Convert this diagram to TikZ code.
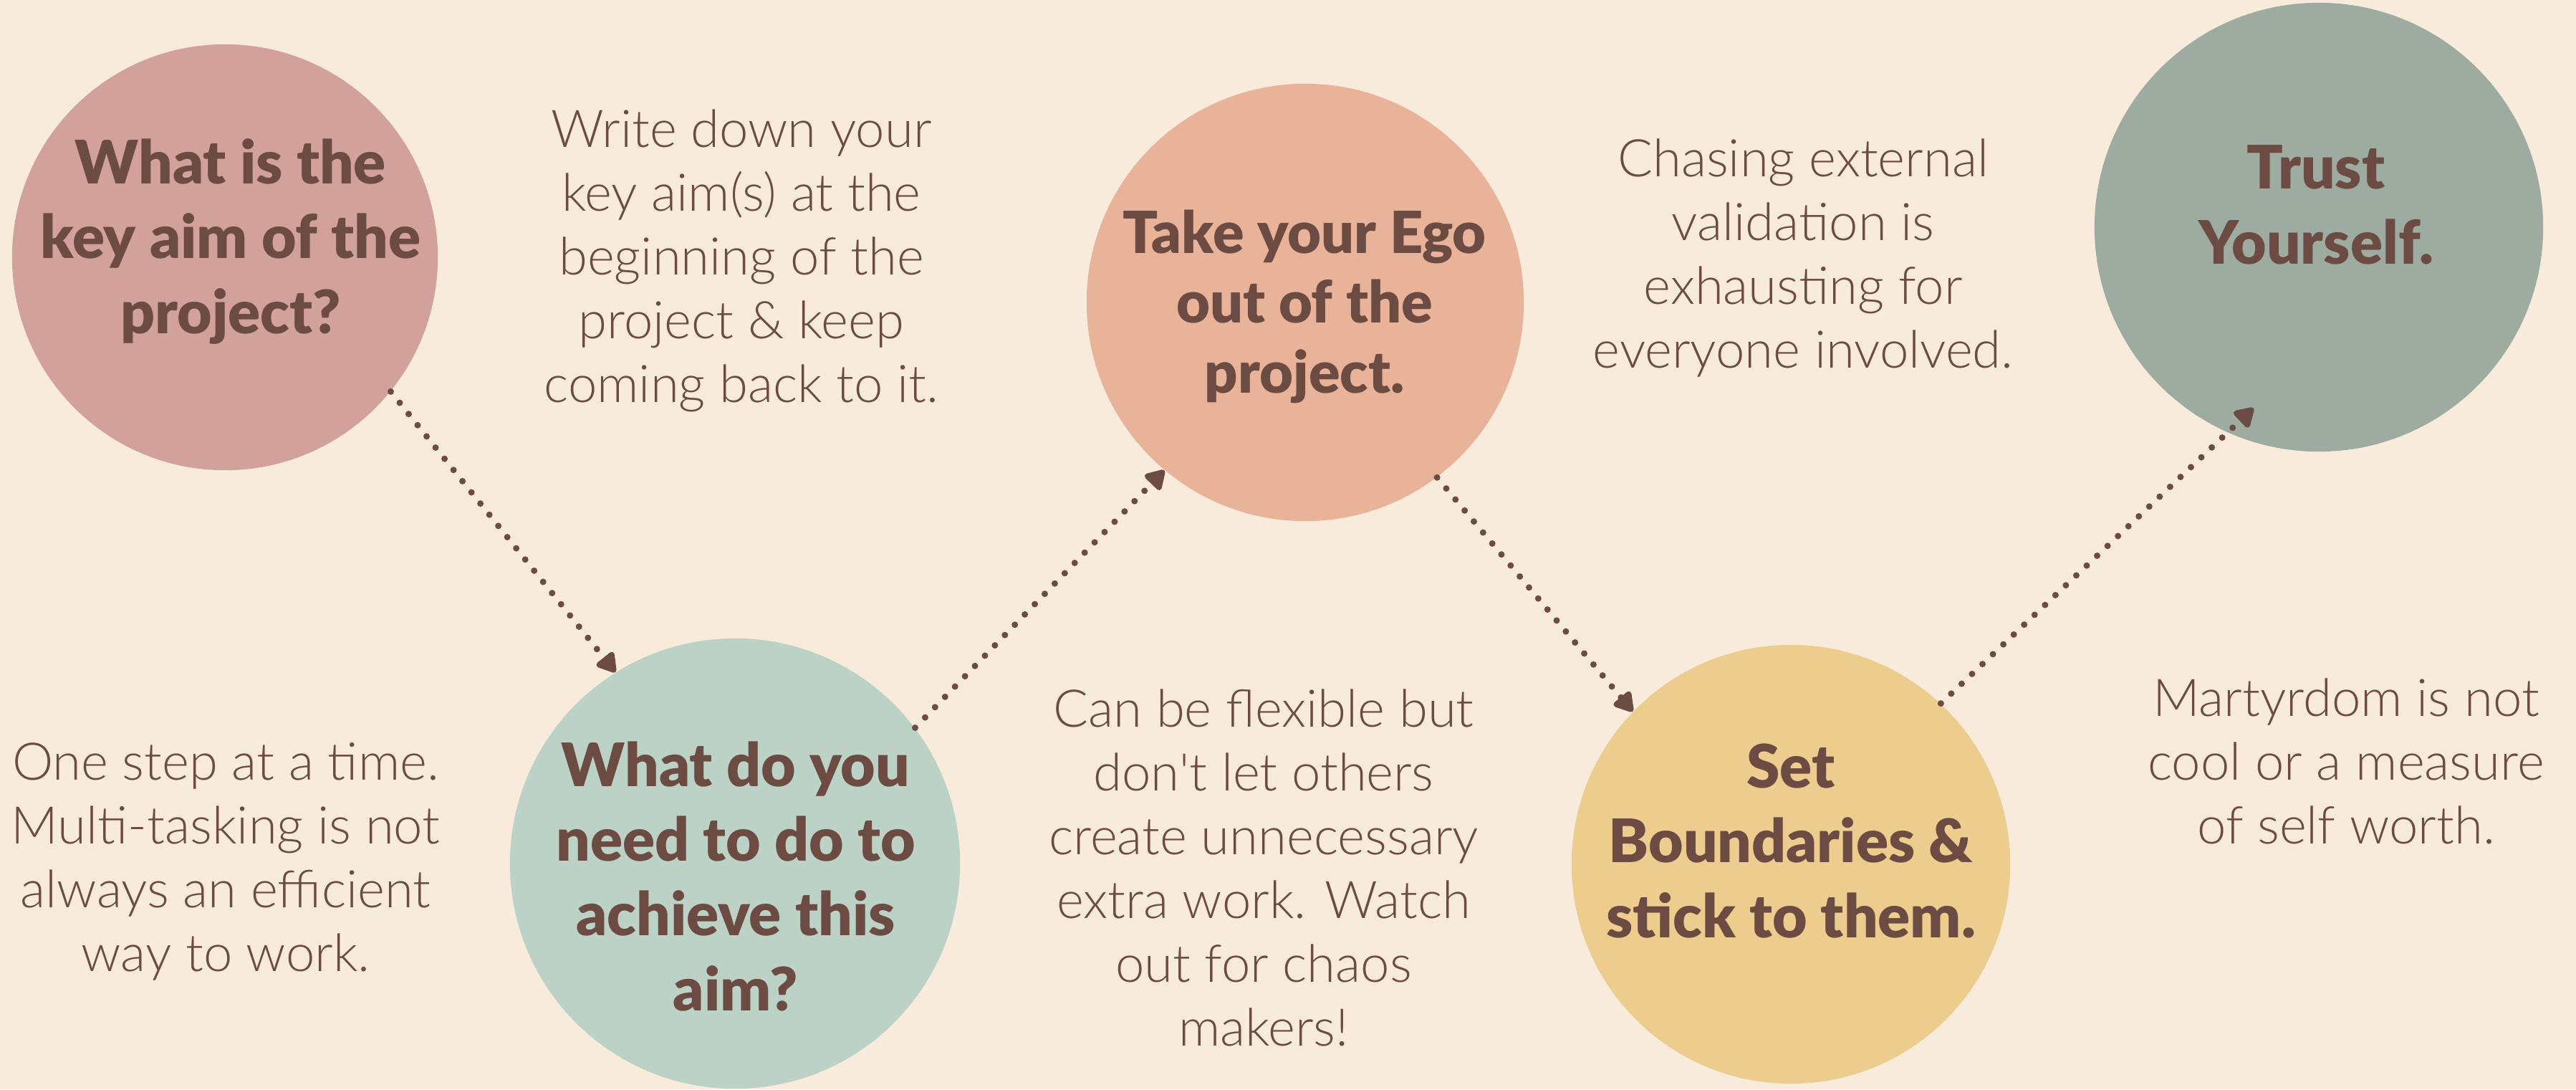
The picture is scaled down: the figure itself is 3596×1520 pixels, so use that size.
\documentclass[tikz,border=0pt]{standalone}
\usepackage{fontspec}
\usetikzlibrary{arrows.meta}
\newfontfamily\lightf{Lato}[UprightFont=* Light]
\newfontfamily\boldf{Lato}[UprightFont=* Black]
\definecolor{bg}{HTML}{F8EBDC}
\definecolor{ink}{HTML}{6B4B42}
\definecolor{cpink}{HTML}{D3A19B}
\definecolor{cpeach}{HTML}{E8B398}
\definecolor{cgrey}{HTML}{9EABA1}
\definecolor{cmint}{HTML}{BDD2C6}
\definecolor{cyellow}{HTML}{EDCD8D}
\tikzset{
  disc/.style={circle, inner sep=0pt, draw=none},
  headline/.style={anchor=base, align=center, text=ink, inner sep=0pt,
    font=\boldf\fontsize{23.8pt}{29.6pt}\selectfont},
  note/.style={anchor=base, align=center, text=ink, inner sep=0pt,
    font=\lightf\fontsize{20.6pt}{25.3pt}\selectfont},
  conn/.style={draw=ink, line width=0.09cm, line cap=round,
    dash pattern=on 0pt off 0.2cm,
    -{Triangle[length=0.3cm, width=0.34cm, round]}},
}
\begin{document}
\begin{tikzpicture}[x=0.01cm, y=-0.01cm]
\fill[bg] (0,0) rectangle (3596,1520);
\useasboundingbox (0,0) rectangle (3596,1520);

% circles
\node[disc, fill=cpink,   minimum size=5.94cm] (c1) at (314,359) {};
\node[disc, fill=cpeach,  minimum size=6.10cm] (c2) at (1822,422) {};
\node[disc, fill=cgrey,   minimum size=6.26cm] (c3) at (3237,317) {};
\node[disc, fill=cmint,   minimum size=6.28cm] (c4) at (1026,1205) {};
\node[disc, fill=cyellow, minimum size=6.12cm] (c5) at (2500,1206) {};

% circle texts (anchored at the baseline of the last line)
\node[headline] (t1) at (322,465) {What is the\\key aim of the\\project?};
\node[headline, font=\boldf\fontsize{23pt}{27.6pt}\selectfont] (t2) at (1821,548) {Take your Ego\\out of the\\project.};
\node[headline] (t3) at (3233,368) {Trust\\Yourself.};
\node[headline] (t4) at (1027,1410) {What do you\\need to do to\\achieve this\\aim?};
\node[headline] (t5) at (2500,1308) {Set\\Boundaries \&\\stick to them.};

% notes
\node[note] (n1) at (1035,561) {Write down your\\key aim(s) at the\\beginning of the\\project \& keep\\coming back to it.};
\node[note] (n2) at (2517,513) {Chasing external\\validation is\\exhausting for\\everyone involved.};
\node[note] (n3) at (315,1355) {One step at a time.\\Multi-tasking is not\\always an efficient\\way to work.};
\node[note] (n4) at (1764,1459) {Can be flexible but\\don't let others\\create unnecessary\\extra work. Watch\\out for chaos\\makers!};
\node[note] (n5) at (3275,1177) {Martyrdom is not\\cool or a measure\\of self worth.};

% connectors
\draw[conn] (c1.-39.4) -- (c4.122.5);
\draw[conn] (c4.37.8) -- (c2.230.3);
\draw[conn] (c2.-53.6) -- (c5.136.4);
\draw[conn, shorten >=-0.5cm] (c5.47.4) -- (c3.246.2);
\end{tikzpicture}
\end{document}
